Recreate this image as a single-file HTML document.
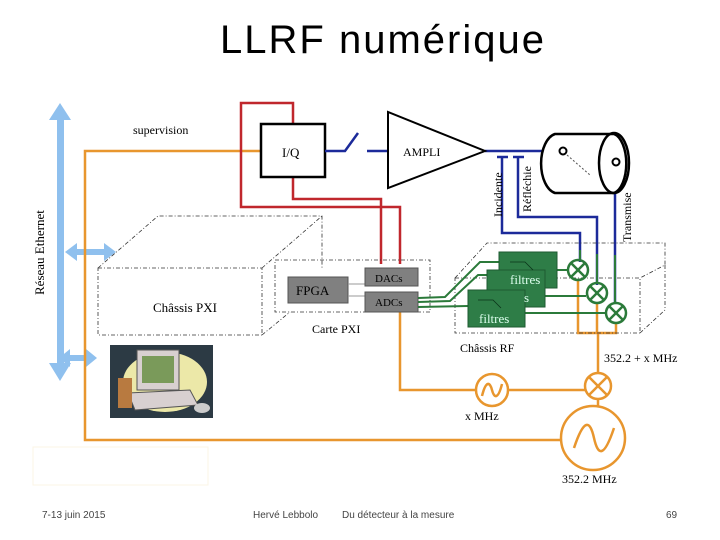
<!DOCTYPE html>
<html><head><meta charset="utf-8"><style>
body{margin:0;background:#fff;width:720px;height:540px;overflow:hidden}
svg{display:block}
text{font-family:"Liberation Serif",serif}
</style></head><body>
<svg width="720" height="540" viewBox="0 0 720 540">
<text x="383" y="53" text-anchor="middle" style="font-family:'Liberation Sans',sans-serif;letter-spacing:2px" font-size="40">LLRF numérique</text>
<!-- ethernet -->
<g fill="#8fc0ee" stroke="none">
<rect x="57" y="118" width="7" height="246"/>
<polygon points="49,120 60,103 71,120"/>
<polygon points="49,363 60,381 71,363"/>
<rect x="76" y="249" width="30" height="6"/>
<polygon points="77,243 65,252 77,261"/>
<polygon points="104,243 116,252 104,261"/>
<rect x="66" y="355" width="22" height="6"/>
<polygon points="70,349 59,358 70,367"/>
<polygon points="86,349 97,358 86,367"/>
</g>
<text transform="translate(44,295) rotate(-90)" font-size="13">Réseau  Ethernet</text>
<text x="133" y="134" font-size="12">supervision</text>
<!-- orange -->
<g fill="none" stroke="#e8962e" stroke-width="2.5">
<polyline points="261,151 85,151 85,440 561,440"/>
<polyline points="400,312 400,390 476,390"/>
<line x1="508" y1="390" x2="585" y2="390"/>
<line x1="598" y1="399" x2="598" y2="406"/>
<line x1="598" y1="373" x2="598" y2="333"/>
<polyline points="578,281 578,333 616,333 616,324"/>
<line x1="597" y1="304" x2="597" y2="333"/>
<circle cx="492" cy="390" r="16"/>
<path d="M482,396 C486,380 490,382 492,390 C494,398 498,400 502,384"/>
<circle cx="598" cy="386" r="13"/>
<line x1="589" y1="377" x2="607" y2="395"/><line x1="607" y1="377" x2="589" y2="395"/>
<circle cx="593" cy="438" r="32"/>
<path d="M574,448 C584,418 590,420 594,438 C598,456 604,458 614,428"/>
</g>
<text x="465" y="420" font-size="12">x  MHz</text>
<text x="604" y="362" font-size="12">352.2 + x MHz</text>
<text x="562" y="483" font-size="12">352.2 MHz</text>
<!-- red -->
<g fill="none" stroke="#c0272d" stroke-width="2.5">
<polyline points="293,124 293,103 241,103 241,207 400,207 400,264"/>
<polyline points="293,177 293,199 381,199 381,264"/>
</g>
<!-- I/Q -->
<rect x="261" y="124" width="64" height="53" fill="#fff" stroke="#000" stroke-width="2.5"/>
<text x="282" y="157" font-size="13">I/Q</text>
<!-- blue -->
<g fill="none" stroke="#1c2a9a" stroke-width="2.5">
<polyline points="325,151 345,151 358,133"/>
<line x1="367" y1="151" x2="388" y2="151"/>
<line x1="485" y1="151" x2="562" y2="151"/>
<polyline points="502,157 502,233 580,233 580,262"/>
<polyline points="518,157 518,217 597,217 597,285"/>
<line x1="615" y1="163" x2="615" y2="304"/>
</g>
<g stroke="#1c2a9a" stroke-width="2.5"><line x1="497" y1="157" x2="508" y2="157"/><line x1="513" y1="157" x2="524" y2="157"/></g>
<polygon points="388,112 388,188 485,151" fill="#fff" stroke="#000" stroke-width="2"/>
<text x="403" y="156" font-size="12">AMPLI</text>
<!-- cavity -->
<path d="M555,134 L614,134 A15,30 0 0 1 614,193 L555,193 A17,30 0 0 1 555,134 Z" fill="#fff" stroke="#000" stroke-width="2.5"/>
<ellipse cx="614" cy="163" rx="15" ry="30" fill="none" stroke="#000" stroke-width="2.5"/>
<circle cx="563" cy="151" r="3.5" fill="#fff" stroke="#000" stroke-width="2"/>
<circle cx="616" cy="162" r="3.5" fill="#fff" stroke="#000" stroke-width="2"/>
<line x1="567" y1="155" x2="590" y2="175" stroke="#555" stroke-dasharray="2,2"/>
<text transform="translate(502,217) rotate(-90)" font-size="12">Incidente</text>
<text transform="translate(531,212) rotate(-90)" font-size="12">Réfléchie</text>
<text transform="translate(631,242) rotate(-90)" font-size="12">Transmise</text>
<!-- chassis PXI -->
<g fill="none" stroke="#333" stroke-width="0.8" stroke-dasharray="4,2,1,2">
<rect x="98" y="268" width="164" height="67"/>
<polyline points="98,268 158,216 322,216 322,268"/>
<line x1="262" y1="268" x2="322" y2="216"/>
<line x1="262" y1="335" x2="290" y2="312"/>
<rect x="275" y="260" width="155" height="52"/>
<rect x="455" y="278" width="185" height="55"/>
<polyline points="455,278 487,243 665,243 665,265 640,278"/>
<line x1="640" y1="333" x2="665" y2="310"/>
<line x1="665" y1="265" x2="665" y2="310"/>
</g>
<text x="153" y="312" font-size="13">Châssis PXI</text>
<text x="312" y="333" font-size="12">Carte PXI</text>
<text x="460" y="352" font-size="12">Châssis RF</text>
<rect x="288" y="277" width="60" height="26" fill="#808080" stroke="#555"/>
<text x="296" y="295" font-size="13">FPGA</text>
<line x1="348" y1="284" x2="365" y2="284" stroke="#999"/><line x1="348" y1="296" x2="365" y2="296" stroke="#999"/>
<rect x="365" y="268" width="53" height="18" fill="#808080" stroke="#555"/>
<text x="375" y="282" font-size="11">DACs</text>
<rect x="365" y="292" width="53" height="20" fill="#808080" stroke="#555"/>
<text x="375" y="306" font-size="11">ADCs</text>
<!-- green -->
<g fill="none" stroke="#2b7a3a" stroke-width="2">
<polyline points="418,298 445,297 480,262 499,262"/>
<polyline points="418,302 450,301 478,275 487,275"/>
<polyline points="418,307 468,306"/>
<line x1="557" y1="270" x2="567" y2="270"/>
<line x1="545" y1="296" x2="586" y2="296"/>
<line x1="525" y1="313" x2="605" y2="313"/>
<line x1="597" y1="254" x2="597" y2="282"/>
<line x1="580" y1="250" x2="580" y2="259"/>
<line x1="615" y1="255" x2="615" y2="302"/>
</g>
<g fill="#2e7d47" stroke="#1d5a30">
<rect x="499" y="252" width="58" height="36"/>
<rect x="487" y="270" width="58" height="37"/>
<rect x="468" y="290" width="57" height="37"/>
</g>
<g fill="none" stroke="#0a3318" stroke-width="0.8">
<polyline points="510,262 525,262 533,270"/><polyline points="478,300 493,300 501,308"/>
</g>
<text x="510" y="284" font-size="13" fill="#dfe">filtres</text>
<text x="524" y="302" font-size="13" fill="#dfe">s</text>
<text x="479" y="323" font-size="13" fill="#dfe">filtres</text>
<g fill="none" stroke="#2b7a3a" stroke-width="2.5">
<circle cx="578" cy="270" r="10"/><line x1="571" y1="263" x2="585" y2="277"/><line x1="585" y1="263" x2="571" y2="277"/>
<circle cx="597" cy="293" r="10"/><line x1="590" y1="286" x2="604" y2="300"/><line x1="604" y1="286" x2="590" y2="300"/>
<circle cx="616" cy="313" r="10"/><line x1="609" y1="306" x2="623" y2="320"/><line x1="623" y1="306" x2="609" y2="320"/>
</g>
<!-- computer -->
<rect x="110" y="345" width="103" height="73" fill="#2c3a44"/>
<ellipse cx="165" cy="382" rx="42" ry="30" fill="#ece8a8"/>
<rect x="137" y="350" width="42" height="40" fill="#d8d0d0" stroke="#555"/>
<rect x="142" y="356" width="32" height="27" fill="#7a9a5a"/>
<polygon points="128,393 190,390 198,405 135,410" fill="#d8d0d0" stroke="#555"/>
<rect x="118" y="378" width="14" height="30" fill="#b87a40"/>
<ellipse cx="202" cy="408" rx="8" ry="5" fill="#ccc"/>
<rect x="33" y="447" width="175" height="38" fill="none" stroke="#fbf4e6"/>
<!-- footer -->
<g font-size="10" fill="#444">
<text x="42" y="518" style="font-family:'Liberation Sans',sans-serif">7-13 juin 2015</text>
<text x="253" y="518" style="font-family:'Liberation Sans',sans-serif">Hervé Lebbolo</text>
<text x="342" y="518" style="font-family:'Liberation Sans',sans-serif">Du détecteur à la mesure</text>
<text x="666" y="518" style="font-family:'Liberation Sans',sans-serif">69</text>
</g>
</svg>
</body></html>
